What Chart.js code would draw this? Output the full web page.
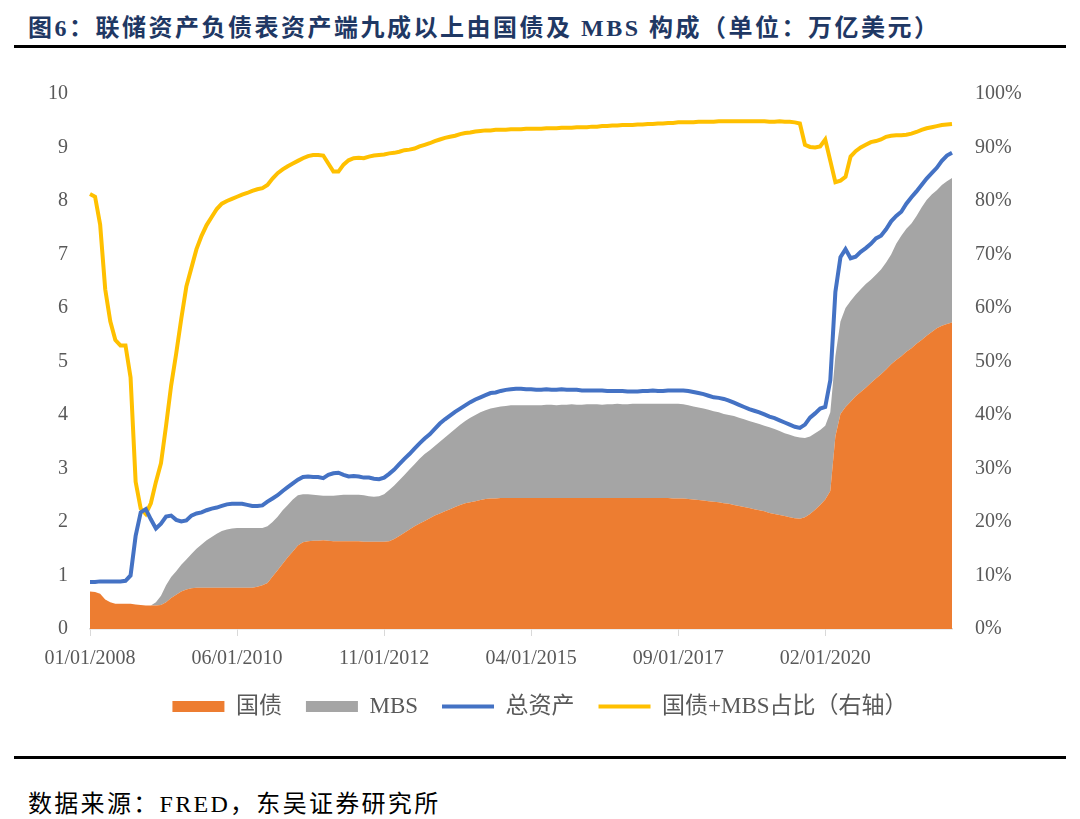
<!DOCTYPE html>
<html>
<head>
<meta charset="utf-8">
<script src="https://cdn.jsdelivr.net/npm/chart.js@4.4.1/dist/chart.umd.min.js"></script>
<style>
  body { margin: 0; background: #fff; }
  #page { position: relative; width: 1080px; height: 819px; overflow: hidden; }
  #title {
    position: absolute; left: 28px; top: 8px;
    font: bold 24px "Liberation Serif", "Noto Sans CJK SC", serif;
    letter-spacing: 2.5px; color: #1f3864; white-space: nowrap;
  }
  .rule { position: absolute; left: 14px; width: 1052px; height: 3px; background: #000; }
  #box { position: absolute; left: 0; top: 60px; width: 1080px; height: 668px; }
  #source {
    position: absolute; left: 28px; top: 784px;
    font: 24px "Liberation Serif", "Noto Sans CJK SC", serif;
    letter-spacing: 2.3px; color: #000; white-space: nowrap;
  }
</style>
</head>
<body>
<div id="page">
  <div id="title">图6：联储资产负债表资产端九成以上由国债及 MBS 构成（单位：万亿美元）</div>
  <div class="rule" style="top:45px"></div>
  <div id="box"><canvas id="chart"></canvas></div>
  <div class="rule" style="top:756px"></div>
  <div id="source">数据来源：FRED，东吴证券研究所</div>
</div>
<script>
// monthly observations, 01/2008 .. 03/2022
const startYear = 2008
const monthCount = 171
const months = []
for (let i = 0; i < monthCount; i++) {
  const y = startYear + Math.floor(i / 12)
  const m = (i % 12) + 1
  months.push(String(m).padStart(2, "0") + "/01/" + y)
}

const tickLabels = ["01/01/2008", "06/01/2010", "11/01/2012", "04/01/2015", "09/01/2017", "02/01/2020"]

// 国债 (trillion USD)
const treasury = [
  0.70,0.69,0.66,0.55,0.50,0.47,0.47,0.47,0.47,0.46,
  0.45,0.44,0.44,0.44,0.45,0.50,0.58,0.64,0.70,0.74,
  0.76,0.77,0.77,0.77,0.77,0.77,0.77,0.77,0.77,0.77,
  0.77,0.77,0.77,0.79,0.82,0.86,0.98,1.10,1.22,1.34,
  1.45,1.56,1.62,1.64,1.65,1.65,1.66,1.65,1.64,1.64,
  1.64,1.64,1.64,1.64,1.63,1.63,1.63,1.63,1.63,1.64,
  1.68,1.74,1.80,1.86,1.92,1.97,2.02,2.07,2.12,2.16,
  2.20,2.24,2.28,2.32,2.35,2.37,2.39,2.41,2.43,2.44,
  2.44,2.45,2.45,2.45,2.45,2.45,2.45,2.45,2.45,2.45,
  2.45,2.45,2.45,2.45,2.45,2.45,2.45,2.45,2.45,2.45,
  2.45,2.45,2.45,2.45,2.45,2.45,2.45,2.45,2.45,2.45,
  2.45,2.45,2.45,2.45,2.45,2.44,2.44,2.44,2.43,2.42,
  2.41,2.40,2.39,2.38,2.37,2.35,2.34,2.32,2.30,2.28,
  2.26,2.24,2.22,2.20,2.17,2.15,2.13,2.11,2.09,2.07,
  2.06,2.09,2.15,2.23,2.32,2.42,2.58,3.60,4.02,4.15,
  4.25,4.35,4.43,4.51,4.60,4.68,4.76,4.85,4.95,5.03,
  5.10,5.18,5.25,5.33,5.40,5.48,5.55,5.62,5.67,5.70,
  5.73
]

// MBS (trillion USD)
const mbs = [
  0,0,0,0,0,0,0,0,0,0,
  0,0,0,0.06,0.17,0.32,0.39,0.44,0.50,0.56,
  0.64,0.73,0.81,0.89,0.95,1.01,1.06,1.09,1.11,1.12,
  1.12,1.12,1.12,1.10,1.07,1.06,1.02,1.00,1.00,0.98,
  0.97,0.94,0.90,0.88,0.86,0.85,0.83,0.84,0.85,0.86,
  0.87,0.87,0.87,0.87,0.87,0.85,0.84,0.85,0.89,0.96,
  1.00,1.04,1.08,1.12,1.16,1.21,1.25,1.27,1.30,1.34,
  1.38,1.42,1.46,1.50,1.54,1.58,1.61,1.64,1.66,1.68,
  1.70,1.71,1.72,1.73,1.73,1.73,1.73,1.73,1.73,1.73,
  1.74,1.74,1.73,1.74,1.74,1.75,1.74,1.74,1.75,1.75,
  1.75,1.74,1.75,1.75,1.76,1.75,1.75,1.76,1.76,1.76,
  1.76,1.76,1.76,1.76,1.76,1.77,1.77,1.76,1.75,1.74,
  1.73,1.72,1.71,1.69,1.68,1.67,1.66,1.66,1.65,1.64,
  1.63,1.62,1.61,1.60,1.60,1.59,1.57,1.55,1.54,1.53,
  1.52,1.48,1.45,1.43,1.40,1.38,1.47,1.50,1.73,1.85,
  1.88,1.90,1.92,1.94,1.93,1.94,1.96,2.00,2.05,2.17,
  2.25,2.30,2.33,2.39,2.48,2.54,2.57,2.58,2.63,2.67,
  2.70
]

// 总资产 (trillion USD)
const totalAssets = [
  0.88,0.88,0.89,0.89,0.89,0.89,0.89,0.90,1.00,1.74,
  2.18,2.24,2.05,1.88,1.97,2.10,2.12,2.04,2.01,2.03,
  2.12,2.16,2.18,2.22,2.25,2.27,2.30,2.33,2.34,2.34,
  2.34,2.32,2.30,2.30,2.31,2.38,2.44,2.50,2.58,2.65,
  2.72,2.79,2.84,2.85,2.84,2.84,2.82,2.88,2.91,2.92,
  2.88,2.85,2.86,2.85,2.83,2.83,2.81,2.80,2.83,2.90,
  2.98,3.08,3.18,3.27,3.37,3.47,3.56,3.64,3.74,3.84,
  3.92,3.99,4.06,4.12,4.18,4.24,4.29,4.33,4.37,4.41,
  4.42,4.45,4.47,4.48,4.49,4.49,4.48,4.48,4.47,4.47,
  4.48,4.47,4.47,4.48,4.47,4.47,4.47,4.46,4.46,4.46,
  4.46,4.46,4.45,4.45,4.45,4.45,4.44,4.44,4.44,4.45,
  4.45,4.46,4.45,4.45,4.46,4.46,4.46,4.46,4.45,4.43,
  4.41,4.39,4.36,4.33,4.32,4.30,4.27,4.23,4.19,4.15,
  4.11,4.08,4.05,4.01,3.97,3.94,3.90,3.86,3.82,3.78,
  3.76,3.82,3.95,4.03,4.12,4.15,4.65,6.30,6.95,7.10,
  6.93,6.96,7.05,7.12,7.20,7.30,7.35,7.47,7.62,7.72,
  7.80,7.95,8.07,8.18,8.30,8.42,8.52,8.62,8.75,8.85,
  8.90
]

// 国债+MBS占比 (%)
const share = [
  81.3,80.8,75.6,63.5,57.5,54.0,53.0,53.0,47.0,27.5,
  22.5,21.5,23.5,27.5,31.0,38.0,45.5,51.5,58.0,64.0,
  67.5,71.0,73.5,75.5,77.0,78.5,79.5,80.0,80.4,80.8,
  81.2,81.5,81.9,82.2,82.4,83.0,84.2,85.2,85.9,86.5,
  87.0,87.5,88.0,88.4,88.6,88.6,88.5,87.0,85.5,85.5,
  86.8,87.6,88.0,88.1,88.0,88.3,88.5,88.6,88.7,88.9,
  89.0,89.2,89.5,89.6,89.8,90.2,90.5,90.8,91.2,91.5,
  91.8,92.0,92.2,92.5,92.7,92.8,93.0,93.1,93.2,93.2,
  93.3,93.3,93.3,93.4,93.4,93.4,93.5,93.5,93.5,93.5,
  93.6,93.6,93.6,93.7,93.7,93.7,93.8,93.8,93.8,93.9,
  93.9,94.0,94.0,94.1,94.1,94.2,94.2,94.2,94.3,94.3,
  94.4,94.4,94.5,94.5,94.6,94.6,94.7,94.7,94.7,94.7,
  94.8,94.8,94.8,94.8,94.9,94.9,94.9,94.9,94.9,94.9,
  94.9,94.9,94.9,94.9,94.8,94.8,94.9,94.8,94.8,94.7,
  94.5,90.5,90.1,90.0,90.2,91.5,87.5,83.5,83.8,84.5,
  88.3,89.3,90.0,90.5,91.0,91.2,91.5,92.0,92.2,92.3,
  92.3,92.4,92.6,92.9,93.3,93.6,93.8,94.0,94.2,94.3,
  94.4
]

const serifFont = "'Liberation Serif', 'Noto Sans CJK SC', serif"
const tickFont = { family: serifFont, size: 20 }
const legendFont = { family: serifFont, size: 23 }
const textColor = "#595959"

const ctx = document.getElementById("chart").getContext("2d")
new Chart(ctx, {
  type: "line",
  data: {
    labels: months,
    datasets: [
      {
        label: "国债",
        data: treasury,
        stack: "assets",
        fill: "origin",
        backgroundColor: "#ED7D31",
        borderColor: "#ED7D31",
        borderWidth: 0,
        pointRadius: 0,
        pointStyle: "rect",
        order: 1,
      },
      {
        label: "MBS",
        data: mbs,
        stack: "assets",
        fill: "-1",
        backgroundColor: "#A5A5A5",
        borderColor: "#A5A5A5",
        borderWidth: 0,
        pointRadius: 0,
        pointStyle: "rect",
        order: 1,
      },
      {
        label: "总资产",
        data: totalAssets,
        stack: "total",
        fill: false,
        borderColor: "#4472C4",
        backgroundColor: "#4472C4",
        borderWidth: 4,
        pointRadius: 0,
        pointStyle: "line",
        order: 0,
      },
      {
        label: "国债+MBS占比（右轴）",
        data: share,
        yAxisID: "y1",
        fill: false,
        borderColor: "#FFC000",
        backgroundColor: "#FFC000",
        borderWidth: 4,
        pointRadius: 0,
        pointStyle: "line",
        order: 0,
      },
    ],
  },
  options: {
    responsive: true,
    maintainAspectRatio: false,
    animation: false,
    layout: { padding: { top: 34, bottom: 0, left: 0, right: 0 } },
    plugins: {
      tooltip: { enabled: false },
      legend: {
        position: "bottom",
        labels: {
          usePointStyle: true,
          pointStyleWidth: 52,
          boxHeight: 11,
          padding: 24,
          color: textColor,
          font: legendFont,
          sort: (a, b) => a.datasetIndex - b.datasetIndex,
        },
      },
    },
    scales: {
      x: {
        offset: false,
        grid: {
          display: true,
          drawOnChartArea: false,
          drawTicks: true,
          tickLength: 7,
          color: "#d9d9d9",
        },
        border: { display: true, color: "#d9d9d9", width: 1.5 },
        ticks: {
          autoSkip: false,
          maxRotation: 0,
          padding: 11,
          color: textColor,
          font: tickFont,
          callback: function (value) {
            const label = this.getLabelForValue(value)
            return tickLabels.includes(label) ? label : null
          },
        },
        // tighter than the default so the legend sits close under the dates
        afterFit: (scale) => { scale.height = 42 },
      },
      y: {
        stacked: true,
        min: 0,
        max: 10,
        grid: { display: false },
        border: { display: false },
        ticks: { stepSize: 1, padding: 14, color: textColor, font: tickFont },
        afterFit: (scale) => { scale.width = 90 },
      },
      y1: {
        position: "right",
        min: 0,
        max: 100,
        grid: { display: false },
        border: { display: false },
        ticks: {
          stepSize: 10,
          padding: 15,
          color: textColor,
          font: tickFont,
          callback: (v) => v + "%",
        },
        afterFit: (scale) => { scale.width = 128 },
      },
    },
  },
})
</script>
</body>
</html>
